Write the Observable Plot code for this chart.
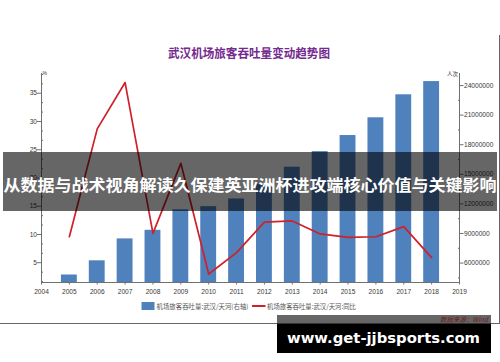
<!DOCTYPE html>
<html><head><meta charset="utf-8">
<script src="https://cdn.jsdelivr.net/npm/d3@7"></script>
<script src="https://cdn.jsdelivr.net/npm/@observablehq/plot@0.6"></script>
<style>
html,body{margin:0;padding:0;background:#fff;}
#wrap{position:relative;width:500px;height:362px;overflow:hidden;background:#fff;}
#wrap > svg{position:absolute;left:0;top:0;}
</style></head><body><div id="wrap"></div>
<script>
// ---- data ----
const years = [2005,2006,2007,2008,2009,2010,2011,2012,2013,2014,2015,2016,2017,2018];
const passengers = [4790000,6230000,8450000,9320000,11400000,11720000,12500000,14000000,15720000,17300000,18930000,20730000,23060000,24400000];
const yoy = [9.6,28.7,36.9,10.2,22.6,3.0,6.8,12.2,12.4,10.1,9.5,9.6,11.4,5.9];
const xTicks = [2004,2005,2006,2007,2008,2009,2010,2011,2012,2013,2014,2015,2016,2017,2018,2019];
const leftTicks = [5,10,15,20,25,30,35];
const rightTicks = [6000000,9000000,12000000,15000000,18000000,21000000,24000000];
const leftDomain = [1.5, 38.5];
const rightDomain = [4030000, 25220000];
const seriesNames = ["机场旅客吞吐量:武汉/天河(右轴)", "机场旅客吞吐量:武汉/天河:同比"];
const titleText = "武汉机场旅客吞吐量变动趋势图";
const leftUnit = "%";
const rightUnit = "人次";
const bannerText = "从数据与战术视角解读久保建英亚洲杯进攻端核心价值与关键影响";
const sourceText = "数据来源：Wind";
const watermarkText = "www.get-jjbsports.com";

const barColor = "#4f81bd";
const lineColor = "#d0202a";
const axisColor = "#707070";
const labelColor = "#383838";

const data = years.map((year, i) => ({year, p: passengers[i], g: yoy[i]}));
const xDomain = [xTicks[0], xTicks[xTicks.length - 1]];
const leftMinor = d3.range(1, 24).filter(k => k % 3).map(k => k * 5 / 3);
const rightMinor = d3.range(3, 17, 2).map(k => k * 1500000);

const common = {
  width: 500, height: 362,
  marginLeft: 41, marginRight: 41, marginTop: 73, marginBottom: 80,
  style: {background: "transparent", fontFamily: "'Liberation Sans', Arial, sans-serif", fontSize: "6.6px", color: labelColor, overflow: "visible"}
};

const barsPlot = Plot.plot({
  ...common,
  x: {domain: xDomain, label: null},
  y: {domain: rightDomain, label: null},
  marks: [
    Plot.rectY(data, {x1: d => d.year - 0.5, x2: d => d.year + 0.5, y1: rightDomain[0], y2: "p", fill: barColor, insetLeft: 6, insetRight: 6}),
    Plot.axisY(rightTicks, {anchor: "right", tickSize: 3.5, tickPadding: 1, stroke: axisColor, fill: labelColor, tickFormat: d => String(d)}),
    Plot.axisY(rightMinor, {anchor: "right", tickSize: -2, stroke: axisColor, tickFormat: () => ""}),
    Plot.axisX(xTicks, {tickSize: 2.5, tickPadding: 4, stroke: axisColor, fill: labelColor, tickFormat: d => String(d)}),
    Plot.ruleX([xDomain[1]], {stroke: axisColor}),
    Plot.ruleY([rightDomain[0]], {stroke: axisColor})
  ]
});

const linePlot = Plot.plot({
  ...common,
  x: {domain: xDomain, label: null, axis: null},
  y: {domain: leftDomain, label: null},
  marks: [
    Plot.axisY(leftTicks, {anchor: "left", tickSize: 4, tickPadding: 0.5, stroke: axisColor, fill: labelColor}),
    Plot.axisY(leftMinor, {anchor: "left", tickSize: -2, stroke: axisColor, tickFormat: () => ""}),
    Plot.ruleX([xDomain[0]], {stroke: axisColor}),
    Plot.line(data, {x: "year", y: "g", stroke: lineColor, strokeWidth: 1.7})
  ]
});

const wrap = document.getElementById("wrap");
wrap.appendChild(barsPlot);
wrap.appendChild(linePlot);

// ---- overlay: title, units, legend, frame, banner, watermark ----
const cjk = "'Noto Sans CJK SC', sans-serif";
const ov = d3.create("svg").attr("width", 500).attr("height", 362).attr("viewBox", "0 0 500 362");

ov.append("text").text(titleText).attr("x", 249).attr("y", 57.5).attr("text-anchor", "middle")
  .attr("font-family", cjk).attr("font-weight", "bold").attr("font-size", 12.5).attr("fill", "#742a8f")
  .attr("textLength", 162).attr("lengthAdjust", "spacingAndGlyphs");

ov.append("text").text(leftUnit).attr("x", 42.5).attr("y", 75).attr("font-family", "'Liberation Sans', sans-serif")
  .attr("font-size", 5).attr("fill", labelColor);
ov.append("text").text(rightUnit).attr("x", 458).attr("y", 75.5).attr("text-anchor", "end").attr("font-family", cjk)
  .attr("font-size", 5.5).attr("fill", labelColor);

// legend
ov.append("rect").attr("x", 141.5).attr("y", 302).attr("width", 13).attr("height", 8).attr("fill", barColor);
ov.append("text").text(seriesNames[0]).attr("x", 156.5).attr("y", 308.5).attr("font-family", cjk).attr("font-size", 6.5)
  .attr("fill", "#555").attr("textLength", 92).attr("lengthAdjust", "spacingAndGlyphs");
ov.append("line").attr("x1", 252).attr("x2", 265.5).attr("y1", 306).attr("y2", 306).attr("stroke", lineColor).attr("stroke-width", 2);
ov.append("text").text(seriesNames[1]).attr("x", 267).attr("y", 308.5).attr("font-family", cjk).attr("font-size", 6.5)
  .attr("fill", "#555").attr("textLength", 89).attr("lengthAdjust", "spacingAndGlyphs");

// frame
ov.append("line").attr("x1", 499.5).attr("x2", 499.5).attr("y1", 35).attr("y2", 324).attr("stroke", "#666");
ov.append("line").attr("x1", 0).attr("x2", 500).attr("y1", 323.5).attr("y2", 323.5).attr("stroke", "#666");

// banner
ov.append("rect").attr("x", 3).attr("y", 152).attr("width", 494).attr("height", 59).attr("fill", "rgba(0,0,0,0.6)");
ov.append("text").text(bannerText).attr("x", 3.5).attr("y", 191).attr("font-family", cjk).attr("font-weight", "bold")
  .attr("font-size", 16).attr("fill", "#fff").attr("textLength", 493).attr("lengthAdjust", "spacingAndGlyphs");

// watermark box
ov.append("rect").attr("x", 277).attr("y", 315).attr("width", 214).attr("height", 8.5).attr("fill", "#666");
ov.append("rect").attr("x", 277).attr("y", 323.5).attr("width", 214).attr("height", 29.5).attr("fill", "#000");
ov.append("text").text(sourceText).attr("x", 488).attr("y", 322).attr("text-anchor", "end").attr("font-family", cjk)
  .attr("font-style", "italic").attr("font-size", 6.7).attr("fill", "#6e1818").attr("textLength", 48).attr("lengthAdjust", "spacingAndGlyphs");
ov.append("text").text(watermarkText).attr("x", 287).attr("y", 342.5).attr("font-family", "'DejaVu Sans', sans-serif")
  .attr("font-weight", "bold").attr("font-size", 14.6).attr("fill", "#fff").attr("textLength", 193).attr("lengthAdjust", "spacingAndGlyphs");

wrap.appendChild(ov.node());
</script></body></html>
